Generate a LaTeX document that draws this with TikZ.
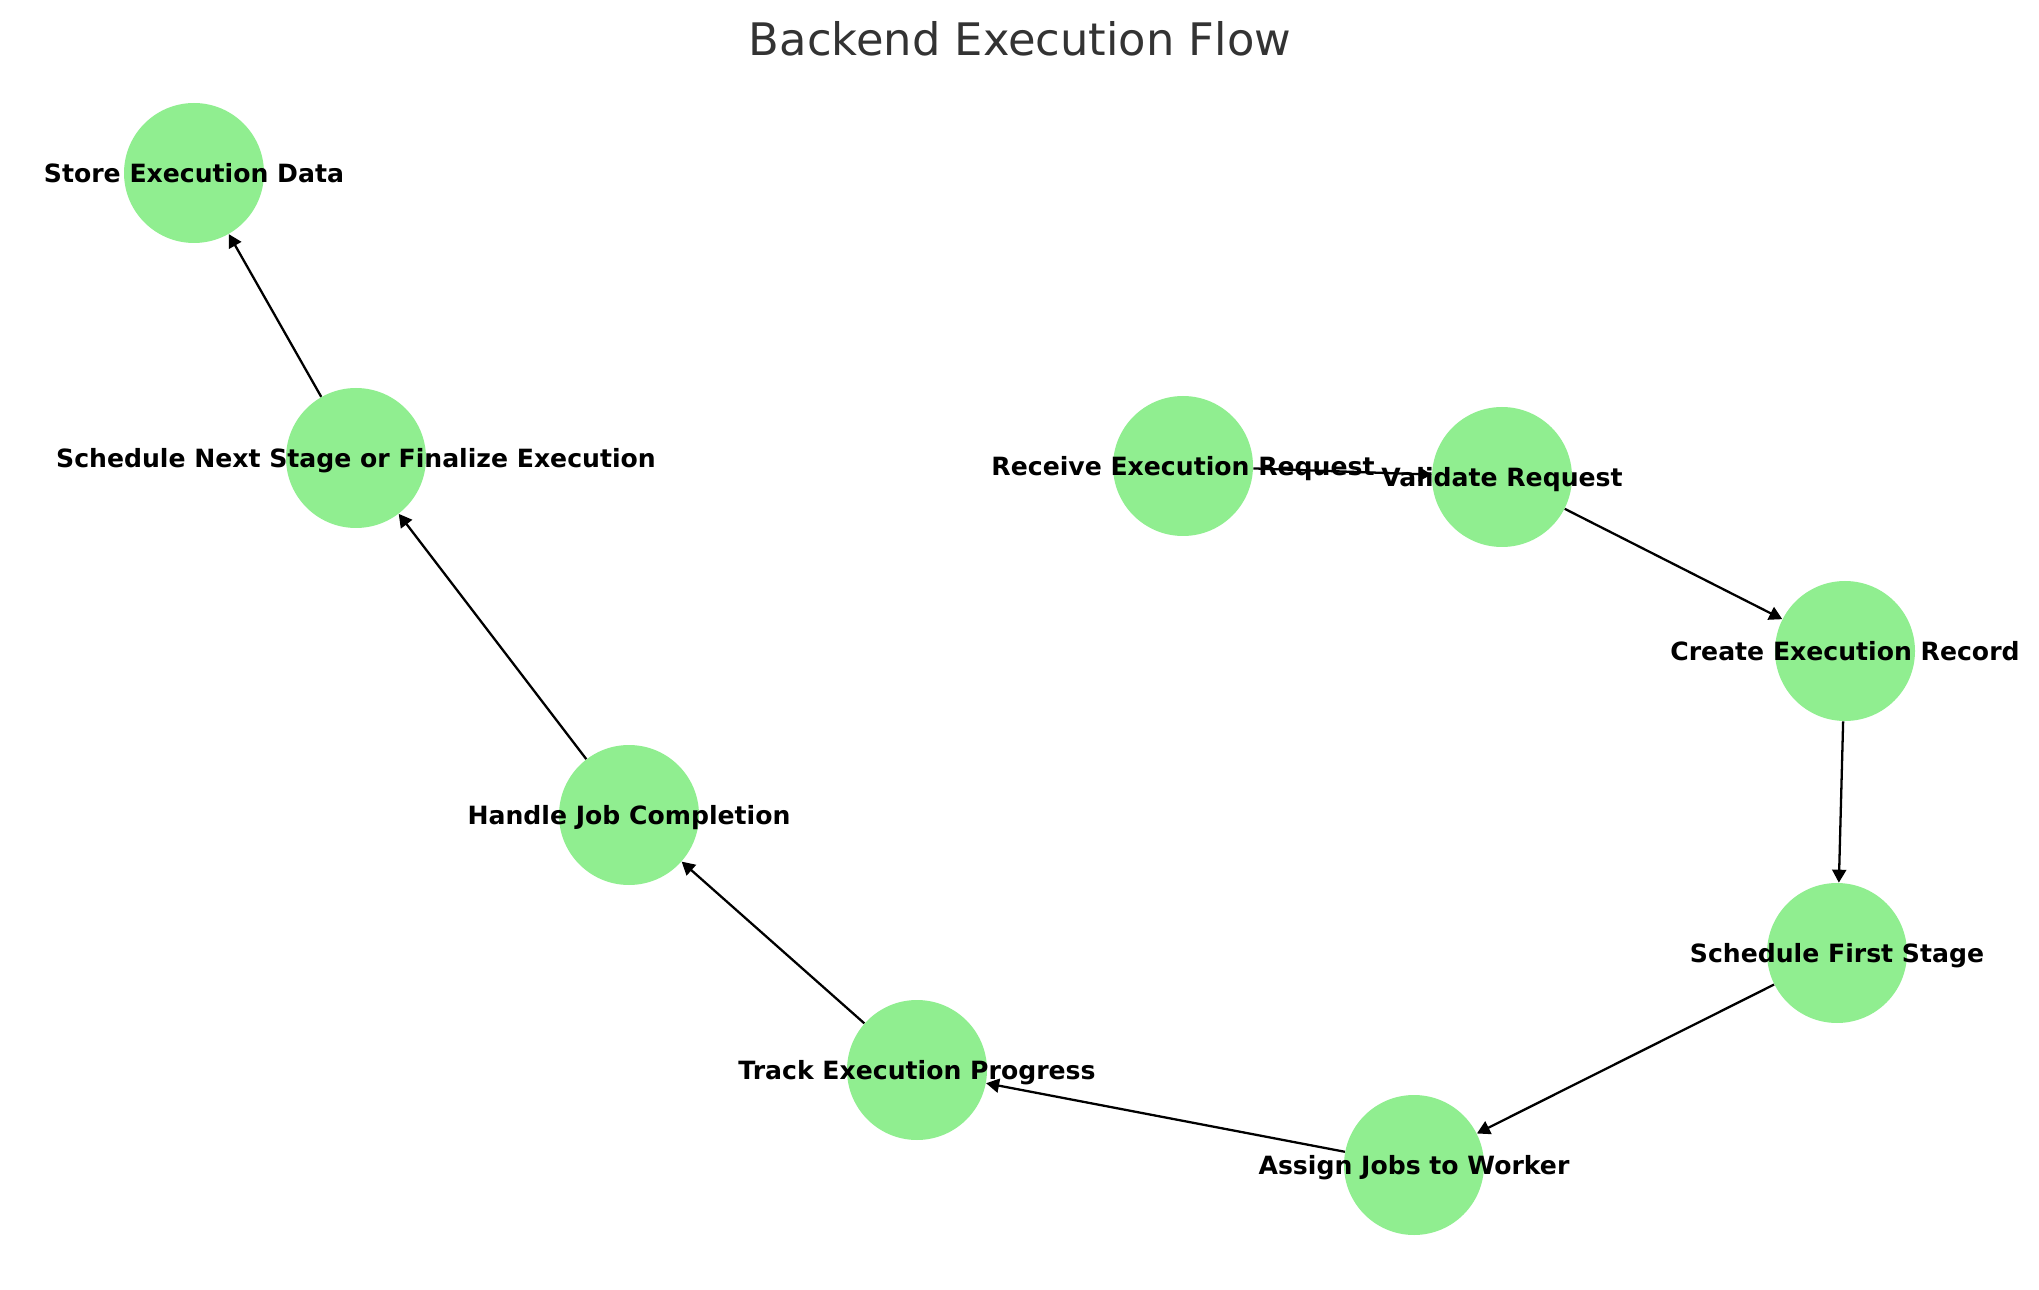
\documentclass[tikz,border=0pt]{standalone}
\usepackage{fontspec}
\setmainfont{DejaVu Sans}
\usepackage{xcolor}
\usetikzlibrary{arrows.meta}
\definecolor{nodegreen}{HTML}{90EE90}
\definecolor{titlegray}{HTML}{333333}
\newcommand{\flowlabel}[1]{\makebox[0pt]{\raisebox{-5.5pt}[0pt][0pt]{#1}}}

\begin{document}
\begin{tikzpicture}[x=0.02cm,y=-0.02cm]
            \tikzset{
            flow node/.style={circle,fill=nodegreen,minimum size=140*0.02cm,inner sep=0,font=\fontsize{14.3}{17}\selectfont\bfseries},
            flow edge/.style={-{Triangle[length=2.6mm,width=2.8mm]},line width=1.3pt}
            }
            \useasboundingbox (0,0) rectangle (2039,1290);
            \node[font=\fontsize{25.5}{30}\selectfont,text=titlegray] (title) at (1020,39) {Backend Execution Flow};

            \node[flow node] (recv) at (1183,466) {\flowlabel{Receive Execution Request}};
            \node[flow node] (valid) at (1502,477) {\flowlabel{Validate Request}};
            \node[flow node] (create) at (1845,651) {\flowlabel{Create Execution Record}};
            \node[flow node] (first) at (1837,953) {\flowlabel{Schedule First Stage}};
            \node[flow node] (assign) at (1414,1165) {\flowlabel{Assign Jobs to Worker}};
            \node[flow node] (track) at (917,1070) {\flowlabel{Track Execution Progress}};
            \node[flow node] (handle) at (629,815) {\flowlabel{Handle Job Completion}};
            \node[flow node] (next) at (356,458) {\flowlabel{Schedule Next Stage or Finalize Execution}};
            \node[flow node] (store) at (194,173) {\flowlabel{Store Execution Data}};

            \path[flow edge]
            (recv) edge (valid)
            (valid) edge (create)
            (create) edge (first)
            (first) edge (assign)
            (assign) edge (track)
            (track) edge (handle)
            (handle) edge (next)
            (next) edge (store)
            ;
        \end{tikzpicture}
\end{document}
